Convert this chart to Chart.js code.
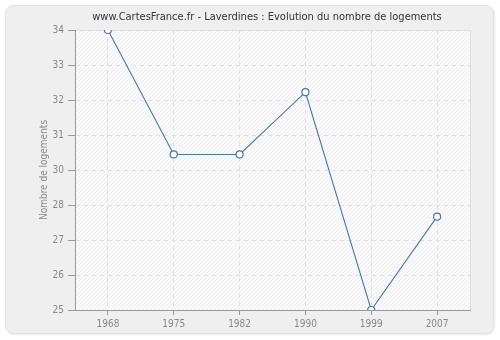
<!DOCTYPE html>
<html>
<head>
<meta charset="utf-8">
<script src="https://cdn.jsdelivr.net/npm/chart.js@4"></script>
<style>
  html, body { margin: 0; padding: 0; background: #ffffff; }
  #wrap { width: 500px; height: 340px; }
</style>
</head>
<body>
<div id="wrap"><canvas id="chart" width="500" height="340"></canvas></div>
<script>
  // Data
  const years = ["1968", "1975", "1982", "1990", "1999", "2007"];
  const logements = [34, 30, 30, 32, 25, 28];
  const yMin = 25;
  const yMax = 34;
  const yStep = 1.125; // 9 labels over 25..34, shown rounded

  const titleText = "www.CartesFrance.fr - Laverdines : Evolution du nombre de logements";
  const yTitle = "Nombre de logements";

  // hatch pattern for the plot area
  function makeHatch(ctx) {
    const s = 4;
    const p = document.createElement("canvas");
    p.width = s;
    p.height = s;
    const pc = p.getContext("2d");
    pc.fillStyle = "#f9f9f9";
    pc.fillRect(0, 0, s, s);
    pc.strokeStyle = "#efefef";
    pc.lineWidth = 1;
    pc.beginPath();
    pc.moveTo(0, s);
    pc.lineTo(s, 0);
    pc.moveTo(-s / 2, s / 2);
    pc.lineTo(s / 2, -s / 2);
    pc.moveTo(s / 2, s * 1.5);
    pc.lineTo(s * 1.5, s / 2);
    pc.stroke();
    return ctx.createPattern(p, "repeat");
  }

  const frame = {
    id: "frame",
    beforeDraw(chart) {
      const ctx = chart.ctx;
      const a = chart.chartArea;
      ctx.save();
      // outer rounded panel
      ctx.shadowColor = "rgba(0,0,0,0.12)";
      ctx.shadowBlur = 3;
      ctx.shadowOffsetX = 1;
      ctx.shadowOffsetY = 1;
      ctx.fillStyle = "#efefef";
      ctx.beginPath();
      ctx.roundRect(5.5, 5.5, 488, 328, 8);
      ctx.fill();
      ctx.shadowColor = "transparent";
      ctx.strokeStyle = "#e2e2e2";
      ctx.lineWidth = 1;
      ctx.stroke();

      // plot background
      ctx.fillStyle = makeHatch(ctx);
      ctx.fillRect(a.left, a.top, a.right - a.left, a.bottom - a.top);
      ctx.strokeStyle = "#dddddd";
      ctx.strokeRect(a.left + 0.5, a.top + 0.5, a.right - a.left, a.bottom - a.top);

      // title
      ctx.fillStyle = "#333333";
      ctx.font = "11px 'DejaVu Sans Condensed', 'DejaVu Sans'";
      ctx.textAlign = "center";
      ctx.textBaseline = "middle";
      ctx.fillText(titleText, 267, 17);

      // y axis title
      ctx.translate(44, (a.top + a.bottom) / 2);
      ctx.rotate(-Math.PI / 2);
      ctx.fillStyle = "#888888";
      ctx.font = "10px 'DejaVu Sans Condensed', 'DejaVu Sans'";
      ctx.fillText(yTitle, 0, 0);
      ctx.restore();
    }
  };

  const tickFont = { family: "'DejaVu Sans Condensed', 'DejaVu Sans'", size: 10 };

  const ctx = document.getElementById("chart").getContext("2d");
  new Chart(ctx, {
    type: "line",
    data: {
      labels: years,
      datasets: [
        {
          data: logements,
          borderColor: "#4a76b0",
          borderWidth: 1.1,
          backgroundColor: "#ffffff",
          pointBackgroundColor: "#ffffff",
          pointBorderColor: "#4a76b0",
          pointBorderWidth: 1.2,
          pointRadius: 3.5,
          tension: 0,
        },
      ],
    },
    options: {
      responsive: false,
      animation: false,
      devicePixelRatio: 1,
      layout: { padding: { left: 0, right: 30, top: 30, bottom: 0 } },
      plugins: {
        legend: { display: false },
        title: { display: false },
        tooltip: { enabled: false },
      },
      scales: {
        x: {
          offset: true,
          afterFit(scale) { scale.height = 30; },
          grid: {
            color: "#e0e0e0",
            tickColor: "#999999",
            tickLength: 5,
            tickBorderDash: [],
          },
          border: { color: "#999999", dash: [4, 4] },
          ticks: {
            color: "#888888",
            font: tickFont,
            padding: 3,
            maxRotation: 0,
          },
        },
        y: {
          min: yMin,
          max: yMax,
          afterFit(scale) { scale.width = 75; },
          afterBuildTicks(scale) {
            const t = [];
            for (let v = yMin; v <= yMax + 1e-9; v += yStep) t.push({ value: v });
            scale.ticks = t;
          },
          grid: {
            color: "#e0e0e0",
            tickColor: "#999999",
            tickLength: 7,
            tickBorderDash: [],
          },
          border: { color: "#999999", dash: [4, 4] },
          ticks: {
            color: "#888888",
            font: tickFont,
            padding: 4,
            callback: (v) => String(Math.round(v)),
          },
        },
      },
    },
    plugins: [frame],
  });
</script>
</body>
</html>
